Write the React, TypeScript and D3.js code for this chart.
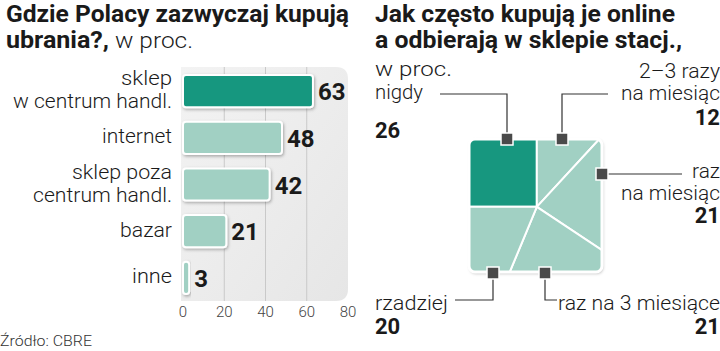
import React from 'react';
import * as d3 from 'd3';

// lewy wykres: gdzie kupują ubrania
const categories = ['sklep\nw centrum handl.', 'internet', 'sklep poza\ncentrum handl.', 'bazar', 'inne'];
const shares = [63, 48, 42, 21, 3];
const xTicks = [0, 20, 40, 60, 80];

// prawy wykres: jak często online + odbiór w sklepie
const freqLabels = ['nigdy', '2–3 razy\nna miesiąc', 'raz\nna miesiąc', 'raz na 3 miesiące', 'rzadziej'];
const freqValues = [26, 12, 21, 21, 20];

const W = 720;
const H = 351;
const DARK = '#17977f';
const LIGHT = '#a1d0c3';
const FONT = 'Roboto, "Noto Sans", sans-serif';

// szerokości napisów (px) – wyrównanie do wzorca
const textWidth: Record<string, number> = {
  'sklep': 51,
  'w centrum handl.': 159,
  'internet': 70,
  'sklep poza': 100,
  'centrum handl.': 139,
  'bazar': 52,
  'inne': 40,
  'nigdy': 48,
  '2–3 razy': 81,
  'na miesiąc': 99,
  'raz': 28,
  'raz na 3 miesiące': 162,
  'rzadziej': 73,
};

type Pt = [number, number];

// first value = top-left rectangle, the rest fan clockwise round its corner
function fanLayout(values: number[]): Pt[][] {
  const total = d3.sum(values);
  const c = Math.sqrt(values[0] / total);
  const center: Pt = [c, c];
  const cells: Pt[][] = [[[0, 0], [c, 0], [c, c], [0, c]]];
  const perim: Pt[] = [[c, 0], [1, 0], [1, 1], [0, 1], [0, c]];
  let cur: Pt = perim[0];
  let k = 0;
  values.slice(1).forEach((v, i) => {
    const poly: Pt[] = [center, cur];
    let remaining = v / total;
    const last = i === values.length - 2;
    while (k < perim.length - 1) {
      const next = perim[k + 1];
      const dx = next[0] - cur[0];
      const dy = next[1] - cur[1];
      const full = 0.5 * Math.abs((cur[0] - c) * dy - (cur[1] - c) * dx);
      if (!last && full >= remaining) {
        const t = full > 0 ? remaining / full : 0;
        cur = [cur[0] + dx * t, cur[1] + dy * t];
        poly.push(cur);
        break;
      }
      poly.push(next);
      remaining -= full;
      cur = next;
      k++;
    }
    cells.push(poly);
  });
  return cells;
}

// callout layout (pixel positions of markers / leader lines / text)
const callouts = [
  { marker: [507, 139], path: [[507, 139], [507, 94], [440, 94]], x: 375, anchor: 'start', lines: [99], num: 138 },
  { marker: [562, 139], path: [[562, 139], [562, 94], [608, 94]], x: 720, anchor: 'end', lines: [78, 100], num: 125 },
  { marker: [602, 174], path: [[602, 174], [682, 174]], x: 720, anchor: 'end', lines: [178, 200], num: 223 },
  { marker: [545, 273], path: [[545, 273], [545, 300], [557, 300]], x: 720, anchor: 'end', lines: [310], num: 334 },
  { marker: [493, 273], path: [[493, 273], [493, 300], [455, 300]], x: 375, anchor: 'start', lines: [310], num: 334 },
];

export default function App() {
  const x = d3.scaleLinear().domain([0, 80]).range([183, 348]);
  const y = d3.scaleBand().domain(categories).range([68, 301]).paddingInner(0.31).paddingOuter(0.15);

  const sx = d3.scaleLinear().domain([0, 1]).range([469, 602]);
  const sy = d3.scaleLinear().domain([0, 1]).range([139, 272]);
  const cells = fanLayout(freqValues);
  const line = d3.line<Pt>().x(d => sx(d[0])).y(d => sy(d[1]));
  const leader = d3.line<number[]>().x(d => d[0]).y(d => d[1]);

  return (
    <svg width={W} height={H} style={{ position: 'absolute', left: 0, top: 0, background: '#fff' }} fontFamily={FONT}>
      <defs>
        <filter id="sh" x="-20%" y="-20%" width="140%" height="140%">
          <feDropShadow dx="1" dy="1.5" stdDeviation="1.5" floodColor="#000" floodOpacity="0.3" />
        </filter>
        <linearGradient id="bg" x1="0" y1="0" x2="1" y2="1">
          <stop offset="0" stopColor="#f3f3f3" />
          <stop offset="1" stopColor="#e6e6e6" />
        </linearGradient>
        <clipPath id="sq">
          <rect x={469} y={139} width={133} height={133} rx={6} />
        </clipPath>
      </defs>

      {/* ---- tytuł lewy ---- */}
      <text x={6} y={22} fontSize={24} fontWeight={700} fill="#1a1a1a" textLength={343} lengthAdjust="spacingAndGlyphs">
        Gdzie Polacy zazwyczaj kupują
      </text>
      <text x={6} y={48} fontSize={24} fontWeight={700} fill="#1a1a1a" textLength={103} lengthAdjust="spacingAndGlyphs">
        ubrania?,
      </text>
      <text x={115} y={48} fontSize={22} fontWeight={300} fill="#1a1a1a" textLength={78} lengthAdjust="spacingAndGlyphs">w proc.</text>

      {/* panel + siatka */}
      <path d="M181,67 H336 Q348,67 348,79 V289 Q348,301 336,301 H181 Z" fill="url(#bg)" />
      {xTicks.filter(t => t > 0 && t < 80).map(t => (
        <line key={t} x1={x(t)} x2={x(t)} y1={67} y2={301} stroke="#c9c9c9" strokeWidth={1} />
      ))}
      {xTicks.map(t => (
        <text key={t} x={x(t)} y={317} fontSize={15} fontWeight={300} fill="#444" textAnchor="middle">{t}</text>
      ))}

      {categories.map((c, i) => {
        const top = y(c) as number;
        const mid = top + y.bandwidth() / 2;
        const parts = c.split('\n');
        return (
          <g key={c}>
            <rect x={x(0)} y={top} width={x(shares[i]) - x(0)} height={y.bandwidth()} rx={3}
              fill={i === 0 ? DARK : LIGHT} stroke="#fff" strokeWidth={2} filter="url(#sh)" />
            {parts.map((p, j) => (
              <text key={j} x={172} y={parts.length === 2 ? mid + (j === 0 ? -6 : 17) : mid + 5.5}
                fontSize={20} fontWeight={300} fill="#1a1a1a" textAnchor="end"
                textLength={textWidth[p]} lengthAdjust="spacingAndGlyphs">{p}</text>
            ))}
            <text x={x(shares[i]) + 5} y={mid + 9} fontSize={24} fontWeight={700} fill="#1a1a1a">{shares[i]}</text>
          </g>
        );
      })}

      <text x={0} y={346} fontSize={15} fontWeight={300} fill="#333" textLength={92} lengthAdjust="spacingAndGlyphs">Źródło: CBRE</text>

      {/* ---- tytuł prawy ---- */}
      <text x={375} y={22} fontSize={24} fontWeight={700} fill="#1a1a1a" textLength={300} lengthAdjust="spacingAndGlyphs">
        Jak często kupują je online
      </text>
      <text x={375} y={48} fontSize={24} fontWeight={700} fill="#1a1a1a" textLength={307} lengthAdjust="spacingAndGlyphs">
        a odbierają w sklepie stacj.,
      </text>
      <text x={375} y={76} fontSize={21} fontWeight={300} fill="#1a1a1a" textLength={77} lengthAdjust="spacingAndGlyphs">w proc.</text>

      {/* kwadrat */}
      <rect x={469} y={139} width={133} height={133} rx={6} fill={LIGHT} filter="url(#sh)" />
      <g clipPath="url(#sq)">
        {cells.map((poly, i) => (
          <path key={i} d={line(poly.concat([poly[0]])) || ''} fill={i === 0 ? DARK : LIGHT}
            stroke="#fff" strokeWidth={2} strokeLinejoin="round" />
        ))}
      </g>
      <rect x={469} y={139} width={133} height={133} rx={6} fill="none" stroke="#fff" strokeWidth={3} />

      {callouts.map((co, i) => {
        const parts = freqLabels[i].split('\n');
        return (
          <g key={i}>
            <path d={leader(co.path) || ''} fill="none" stroke="#333" strokeWidth={1.2} />
            <rect x={co.marker[0] - 6} y={co.marker[1] - 6} width={12} height={12}
              fill="#4a4a4a" stroke="#fff" strokeWidth={1.5} />
            {parts.map((p, j) => (
              <text key={j} x={co.x} y={co.lines[j]} fontSize={20} fontWeight={300} fill="#1a1a1a"
                textAnchor={co.anchor as 'start' | 'end'}
                textLength={textWidth[p]} lengthAdjust="spacingAndGlyphs">{p}</text>
            ))}
            <text x={co.x} y={co.num} fontSize={22} fontWeight={700} fill="#1a1a1a"
              textAnchor={co.anchor as 'start' | 'end'}>{freqValues[i]}</text>
          </g>
        );
      })}
    </svg>
  );
}
